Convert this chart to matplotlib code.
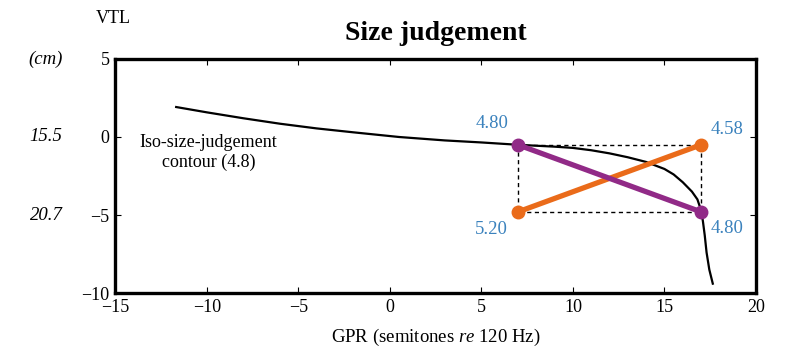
import matplotlib.pyplot as plt

plt.rcParams['font.family'] = 'Liberation Serif'
plt.rcParams['mathtext.fontset'] = 'custom'
plt.rcParams['mathtext.rm'] = 'Liberation Serif'
plt.rcParams['mathtext.it'] = 'Liberation Serif:italic'

# iso-size-judgement contour (GPR, VTL offset)
contour_x = [-11.67, -10, -8, -6, -4, -2, 0.5, 3, 5, 7, 9, 10, 11, 12, 13, 14, 15,
             15.5, 16, 16.5, 16.8, 17.0, 17.1, 17.2, 17.3, 17.45, 17.64]
contour_y = [1.92, 1.58, 1.2, 0.85, 0.55, 0.3, 0.0, -0.22, -0.35, -0.5, -0.62, -0.7,
             -0.85, -1.05, -1.3, -1.6, -2.05, -2.4, -2.9, -3.5, -4.0, -4.7, -5.4,
             -6.3, -7.4, -8.5, -9.4]

# the two stimulus pairs
purple_x = [7, 17]
purple_y = [-0.5, -4.8]
orange_x = [7, 17]
orange_y = [-4.8, -0.5]

# size judgements at each corner
judgements = ['4.80', '4.80', '5.20', '4.58']
judge_x = [7, 17, 7, 17]
judge_y = [-0.5, -4.8, -4.8, -0.5]
judge_offsets = [(-19, 15), (19, -12), (-19, -13), (19, 11)]

vtl_labels = ['15.5', '20.7']
vtl_pos = [0, -5]

fig = plt.figure(figsize=(8, 3.64), dpi=100)
ax = fig.add_axes([0.144, 0.195, 0.801, 0.643])

ax.plot(contour_x, contour_y, color='black', lw=1.6)

# dashed box around the stimuli
bx = [min(purple_x), max(purple_x), max(purple_x), min(purple_x), min(purple_x)]
by = [max(purple_y), max(purple_y), min(purple_y), min(purple_y), max(purple_y)]
ax.plot(bx, by, color='black', lw=1, ls=(0, (3, 2.5)))

ax.plot(orange_x, orange_y, color='#ea6b1a', lw=3.8, marker='o', ms=9, solid_capstyle='round')
ax.plot(purple_x, purple_y, color='#912a87', lw=3.8, marker='o', ms=9, solid_capstyle='round')

for lab, x, y, off in zip(judgements, judge_x, judge_y, judge_offsets):
    ax.annotate(lab, (x, y), xytext=off, textcoords='offset points',
                ha='center', va='center', color='#3b82bd', fontsize=13.5)

ax.text(-9.9, -1.0, 'Iso-size-judgement\ncontour (4.8)', ha='center', va='center',
        fontsize=13, linespacing=1.15)

ax.set_xlim(-15, 20)
ax.set_ylim(-10, 5)
ax.set_xticks([-15, -10, -5, 0, 5, 10, 15, 20])
ax.set_yticks([-10, -5, 0, 5])
ax.tick_params(direction='in', top=True, right=True, length=4, width=0.8,
               labelsize=13, pad=4)
for s in ax.spines.values():
    s.set_linewidth(2.4)

ax.set_xlabel('GPR (semitones $\\mathit{re}$ 120 Hz)', fontsize=13.5, labelpad=8)
ax.set_title('Size judgement', fontsize=20, fontweight='bold', pad=14)

# VTL scale on the far left
trans = ax.get_yaxis_transform()
for lab, y in zip(vtl_labels, vtl_pos):
    ax.text(-0.108, y, lab, transform=trans, ha='center', va='center',
            fontsize=13.5, style='italic')
ax.text(-0.108, 5, '(cm)', transform=trans, ha='center', va='center',
        fontsize=13.5, style='italic')
fig.text(0.141, 0.95, 'VTL', ha='center', va='center', fontsize=13)

fig.savefig('out.png', dpi=100)
